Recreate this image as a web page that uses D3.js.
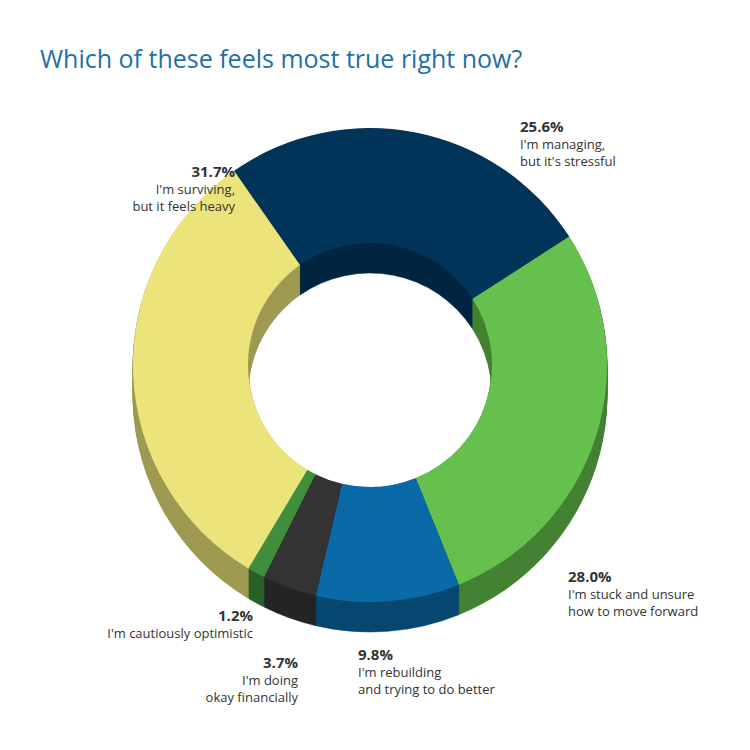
<!DOCTYPE html>
<html><head><meta charset="utf-8">
<script src="https://cdn.jsdelivr.net/npm/d3@7"></script>
<style>body{margin:0;background:#fff}</style></head>
<body><svg id="c" width="750" height="750"></svg>
<script>
const categories = ["I'm managing, but it's stressful","I'm stuck and unsure how to move forward","I'm rebuilding and trying to do better","I'm doing okay financially","I'm cautiously optimistic","I'm surviving, but it feels heavy"];
const values = [25.6, 28.0, 9.8, 3.7, 1.2, 31.7];
const colors = ["#003459","#66c04d","#0a6aa8","#333333","#3f8f3c","#ebe47a"];
const labelLines = [["I'm managing,","but  it's stressful"],["I'm stuck and unsure","how to move forward"],["I'm rebuilding","and trying to do better"],["I'm doing","okay financially"],["I'm cautiously optimistic"],["I'm surviving,","but it feels heavy"]];

const svg = d3.select("#c");
svg.append("text").attr("x",40).attr("y",68).attr("fill","#1f6fa8")
  .attr("font-family","Open Sans, sans-serif").attr("font-size",25).text("Which of these feels most true right now?");

const cx=370, cy=365, R=237, r=122, depth=30;
const start=-35*Math.PI/180;
const pie=d3.pie().sort(null).startAngle(start).endAngle(start+2*Math.PI);
const arcs=pie(values);
const arc=d3.arc().innerRadius(r).outerRadius(R);
const dark=(i)=>d3.color(colors[i]).darker(i===0||i===3?0.9:1.1);
for(let d=depth; d>0; d--){
  const g=svg.append("g").attr("transform",`translate(${cx},${cy+d})`);
  g.selectAll("path").data(arcs).join("path").attr("d",arc)
    .attr("fill",(a,i)=>dark(i)).attr("stroke",(a,i)=>dark(i)).attr("stroke-width",0.5);
}
const topG=svg.append("g").attr("transform",`translate(${cx},${cy})`);
topG.selectAll("path").data(arcs).join("path").attr("d",arc).attr("fill",(a,i)=>colors[i]).attr("stroke","none");

const pos=[[520,132,"start"],[568,582,"start"],[358,660,"start"],[298,668,"end"],[253,621,"end"],[235,177,"end"]];
pos.forEach((p,i)=>{
  const t=svg.append("text").attr("x",p[0]).attr("y",p[1]).attr("text-anchor",p[2])
    .attr("font-family","Open Sans, sans-serif").attr("fill","#333");
  t.append("tspan").attr("x",p[0]).attr("font-weight","bold").attr("font-size",15).text(values[i].toFixed(1)+"%");
  labelLines[i].forEach(l=>t.append("tspan").attr("x",p[0]).attr("dy",17).attr("font-size",13).text(l));
});
</script></body></html>
